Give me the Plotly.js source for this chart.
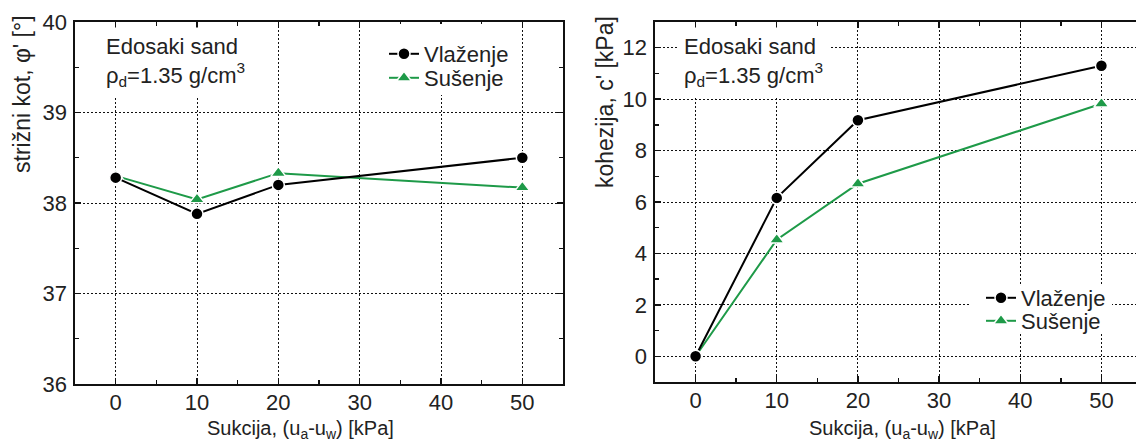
<!DOCTYPE html>
<html>
<head>
<meta charset="utf-8">
<script src="https://cdn.plot.ly/plotly-3.0.1.min.js"></script>
<style>
  html, body { margin: 0; padding: 0; background: #ffffff; overflow: hidden; }
  #chart { width: 1142px; height: 441px; }
</style>
</head>
<body>
<div id="chart"></div>
<script>
// ---- data ----
const suction = [0, 10, 20, 50];
const phiVlazenje = [38.28, 37.88, 38.20, 38.50];
const phiSusenje = [38.30, 38.04, 38.33, 38.17];
const cVlazenje = [0, 6.16, 9.18, 11.30];
const cSusenje = [0, 4.53, 6.71, 9.82];
const seriesNames = ["Vlaženje", "Sušenje"];
const xTicks = [0, 10, 20, 30, 40, 50];
const phiTicks = [36, 37, 38, 39, 40];
const cTicks = [0, 2, 4, 6, 8, 10, 12];
const xTitle = "Sukcija, (u<sub>a</sub>-u<sub>w</sub>) [kPa]";
const phiTitle = "strižni kot, φ' [°]";
const cTitle = "kohezija, c' [kPa]";
const boxText = "Edosaki sand<br>ρ<sub>d</sub>=1.35 g/cm<sup>3</sup>";

// ---- styling ----
const W = 1142, H = 441;
const px = v => v / W;
const py = v => (H - v) / H;
const FONT = "Liberation Sans, Arial, sans-serif";
const TXT = "#222222";
const GREEN = "#1e9a48";

function lineTrace(y, name, xa, ya, legend, isGreen) {
  return {
    x: suction, y: y, name: name, xaxis: xa, yaxis: ya, legend: legend,
    type: "scatter", mode: "lines+markers", showlegend: true,
    line: { color: isGreen ? GREEN : "#000000", width: 2 },
    marker: {
      symbol: isGreen ? "triangle-up" : "circle",
      size: isGreen ? 13 : 12,
      color: isGreen ? GREEN : "#000000",
      line: { color: "#ffffff", width: 1.5 }
    }
  };
}

const traces = [
  lineTrace(phiSusenje, seriesNames[1], "x", "y", "legend3", true),
  lineTrace(phiVlazenje, seriesNames[0], "x", "y", "legend", false),
  lineTrace(cSusenje, seriesNames[1], "x2", "y2", "legend4", true),
  lineTrace(cVlazenje, seriesNames[0], "x2", "y2", "legend2", false)
];

function axisBase(extra) {
  return Object.assign({
    showline: true, linecolor: "#111111", linewidth: 1.6, mirror: "allticks",
    ticks: "inside", ticklen: 6, tickwidth: 1.4, tickcolor: "#111111",
    showgrid: true, gridcolor: "#111111", gridwidth: 1, griddash: "2px,2px",
    zeroline: false, fixedrange: true,
    tickfont: { family: FONT, size: 22, color: TXT }
  }, extra);
}

function legendAt(xPix, yPix) {
  return {
    x: px(xPix), y: py(yPix), xanchor: "left", yanchor: "middle",
    bgcolor: "rgba(0,0,0,0)", borderwidth: 0, tracegroupgap: 0, itemwidth: 30,
    font: { family: FONT, size: 22, color: TXT }
  };
}

// white panel behind a legend, in pixel coordinates
function whitePanel(x0, x1, y0, y1) {
  return {
    type: "rect", layer: "above", xref: "paper", yref: "paper",
    x0: px(x0), x1: px(x1), y0: py(y1), y1: py(y0),
    fillcolor: "#ffffff", line: { width: 0 }
  };
}

const layout = {
  width: W, height: H,
  margin: { l: 0, r: 0, t: 0, b: 0 },
  paper_bgcolor: "#ffffff", plot_bgcolor: "#ffffff",
  font: { family: FONT, color: TXT },
  xaxis: axisBase({ domain: [px(75), px(563)], range: [-5, 55], tickvals: xTicks, anchor: "y",
    minor: { dtick: 5, tick0: 0, ticks: "inside", ticklen: 4, tickcolor: "#111111", showgrid: false }, ticklabelstandoff: -2 }),
  yaxis: axisBase({ domain: [py(384), py(22)], range: [36, 40], tickvals: phiTicks, anchor: "x",
    minor: { dtick: 0.5, tick0: 0, ticks: "inside", ticklen: 4, tickcolor: "#111111", showgrid: false }, ticklabelstandoff: 2 }),
  xaxis2: axisBase({ domain: [px(655), 1], range: [-5, 55], tickvals: xTicks, anchor: "y2",
    minor: { dtick: 5, tick0: 0, ticks: "inside", ticklen: 4, tickcolor: "#111111", showgrid: false }, ticklabelstandoff: -2 }),
  yaxis2: axisBase({ domain: [py(382), py(22)], range: [-1, 13], tickvals: cTicks, anchor: "x2",
    minor: { dtick: 1, tick0: 0, ticks: "inside", ticklen: 4, tickcolor: "#111111", showgrid: false }, ticklabelstandoff: 2 }),
  legend: legendAt(384, 54),
  legend3: legendAt(384, 78),
  legend2: legendAt(981, 298),
  legend4: legendAt(981, 321),
  shapes: [
    whitePanel(372, 516, 24, 95),
    whitePanel(970, 1112, 284, 334)
  ],
  annotations: [
    { text: boxText, xref: "paper", yref: "paper", x: px(99), y: py(27), xanchor: "left", yanchor: "top",
      align: "left", showarrow: false, bgcolor: "#ffffff", borderpad: 6,
      font: { family: FONT, size: 22, color: TXT } },
    { text: boxText, xref: "paper", yref: "paper", x: px(677), y: py(27), xanchor: "left", yanchor: "top",
      align: "left", showarrow: false, bgcolor: "#ffffff", borderpad: 6,
      font: { family: FONT, size: 22, color: TXT } },
    { text: xTitle, xref: "paper", yref: "paper", x: px(300), y: py(429), xanchor: "center", yanchor: "middle",
      showarrow: false, font: { family: FONT, size: 20, color: TXT } },
    { text: xTitle, xref: "paper", yref: "paper", x: px(902), y: py(429), xanchor: "center", yanchor: "middle",
      showarrow: false, font: { family: FONT, size: 20, color: TXT } },
    { text: phiTitle, xref: "paper", yref: "paper", x: px(22), y: py(94), xanchor: "center", yanchor: "middle",
      textangle: -90, showarrow: false, font: { family: FONT, size: 23, color: TXT } },
    { text: cTitle, xref: "paper", yref: "paper", x: px(605), y: py(102), xanchor: "center", yanchor: "middle",
      textangle: -90, showarrow: false, font: { family: FONT, size: 23, color: TXT } }
  ]
};

Plotly.newPlot("chart", traces, layout, { displayModeBar: false, staticPlot: true });
</script>
</body>
</html>
